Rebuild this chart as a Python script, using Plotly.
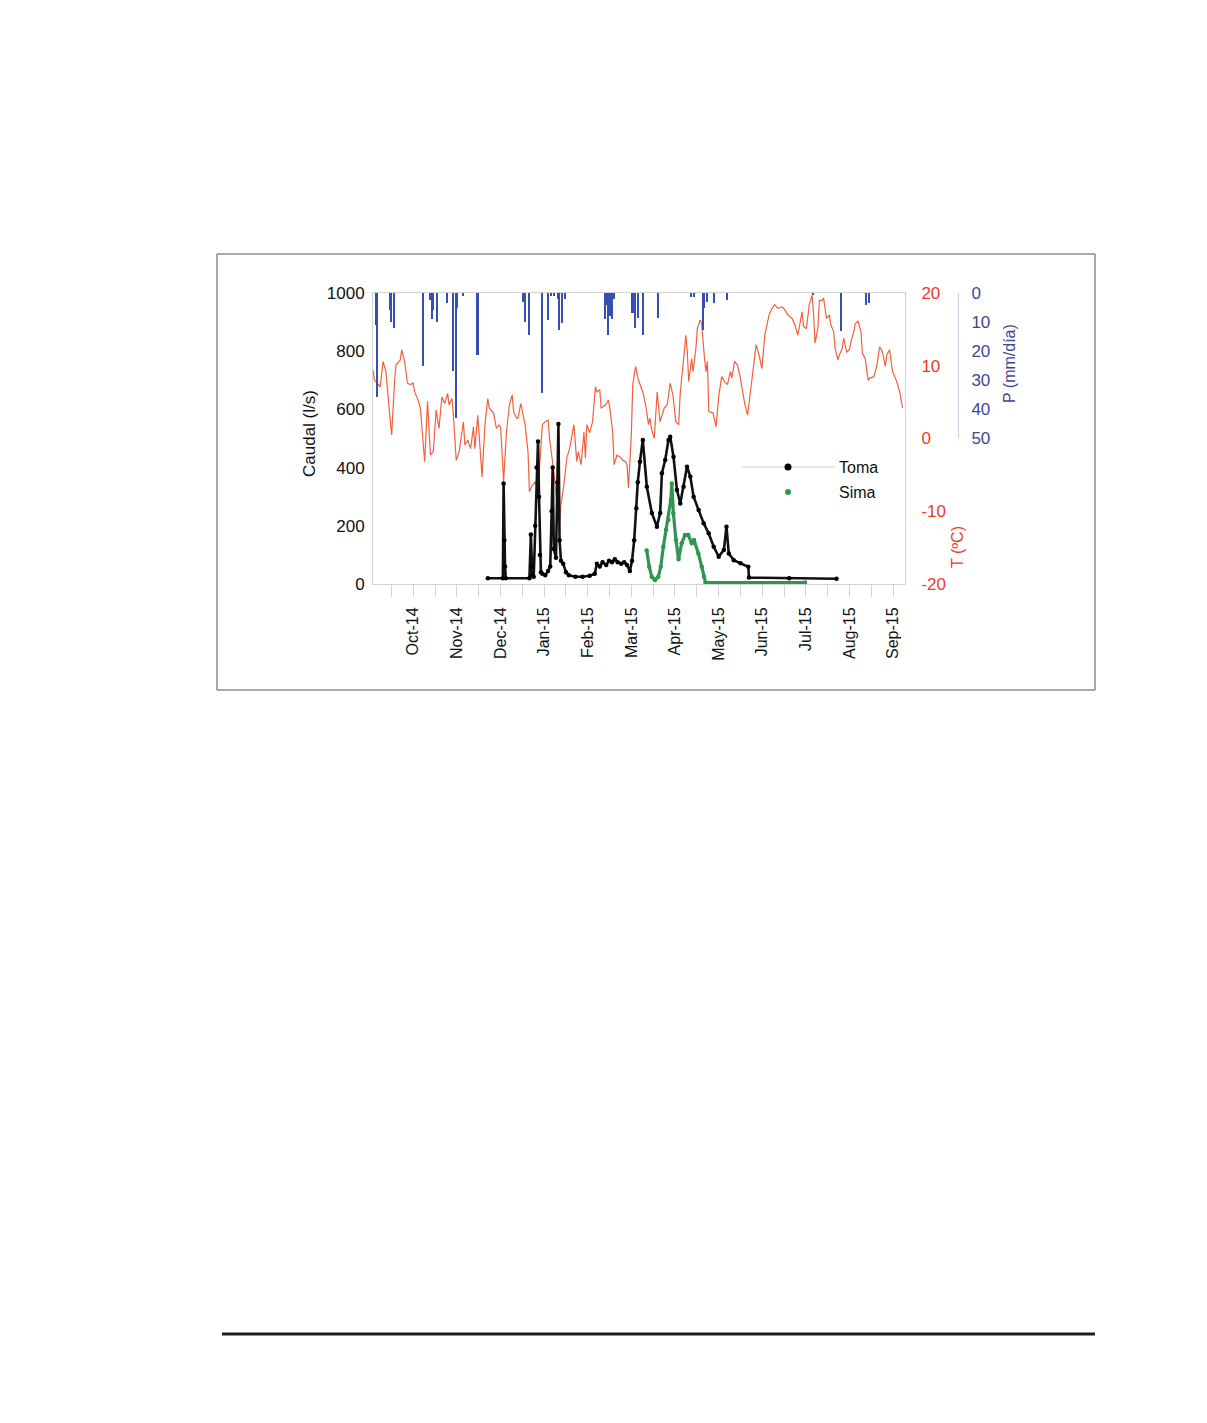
import pandas as pd
import plotly.graph_objects as go

PAGE_W, PAGE_H = 1207, 1423
OFF = 8  # default body margin of the page
W, H = PAGE_W - OFF, PAGE_H - OFF
start = pd.Timestamp("2014-09-03")

# Daily air temperature (ºC), day offsets from start
temp_day = [0, 1, 4, 5, 7, 9, 12, 13, 15, 16,
            19, 20, 22, 24, 26, 28, 29, 31, 33, 34,
            36, 38, 40, 42, 44, 46, 48, 50, 52, 53,
            55, 56, 58, 60, 63, 64, 66, 68, 70, 71,
            73, 76, 78, 80, 81, 84, 86, 88, 89, 91,
            93, 95, 97, 98, 100, 101, 103, 105, 106, 108,
            109, 111, 113, 115, 116, 118, 120, 122, 123, 126,
            128, 130, 131, 133, 135, 137, 140, 142, 143, 145,
            147, 148, 149, 151, 153, 155, 156, 158, 159, 162,
            164, 165, 167, 168, 170, 172, 174, 176, 177, 178,
            180, 181, 183, 185, 188, 190, 192, 193, 194, 196,
            198, 200, 203, 205, 207, 209, 211, 213, 214, 216,
            218, 219, 220, 222, 223, 225, 226, 228, 229, 231,
            232, 233, 234, 237, 239, 241, 243, 245, 247, 249,
            250, 252, 254, 256, 258, 259, 261, 263, 265, 267,
            269, 271, 273, 275, 276, 278, 280, 282, 285, 287,
            289, 292, 294, 296, 297, 299, 300, 302, 304, 306,
            307, 308, 310, 311, 313, 314, 316, 318, 319, 321,
            322, 324, 325, 327, 328, 330, 332, 333, 335, 336,
            338, 340, 341, 343, 345, 346, 349, 351, 353, 355,
            357, 358, 360, 362, 364, 365, 367, 369]
temp_c = [9.4, 8.0, 7.4, 7.1, 10.6, 9.2, 2.5, 0.5, 7.8, 10.1,
          10.8, 12.2, 10.6, 7.6, 7.4, 7.6, 6.4, 5.5, 4.2, 1.4,
          -3.2, 5.1, -2.3, -1.8, 3.9, 1.4, 5.7, 4.8, 6.2, 4.6,
          5.5, 3.2, -3.0, -1.8, 2.3, -0.9, -0.2, -1.4, 1.6, -1.4,
          3.2, -5.3, 1.9, 5.5, 4.2, 3.5, 1.4, 1.9, 1.4, -5.9,
          0.9, 4.6, 6.0, 3.7, 2.8, 2.8, 4.8, 2.8, 1.9, -1.8,
          -7.3, -6.4, -6.0, -7.0, -4.1, 1.9, 2.3, 2.5, 0.0, -4.6,
          -8.7, -11.5, -9.0, -6.4, -2.7, -1.4, 1.9, -3.2, -1.8, -3.6,
          0.9, -2.7, 1.9, 0.8, 2.3, 7.1, 6.4, 6.7, 4.2, 4.6,
          5.3, 4.2, 0.9, -3.6, -2.3, -2.5, -3.0, -3.2, -3.6, -6.8,
          0.5, 7.4, 9.9, 8.0, 6.4, 4.6, 1.9, 2.8, 1.4, 0.0,
          6.4, 2.3, 4.2, 4.6, 7.6, 6.0, 2.3, 1.9, 6.0, 10.1,
          14.2, 11.9, 7.8, 11.0, 9.2, 12.4, 15.1, 16.3, 15.8, 11.0,
          9.2, 10.6, 3.7, 3.5, 1.6, 6.0, 8.5, 7.8, 7.4, 9.2,
          8.3, 10.6, 10.1, 8.3, 5.5, 4.8, 3.2, 6.4, 10.1, 12.9,
          11.5, 9.6, 14.2, 16.1, 17.0, 17.9, 18.4, 17.9, 18.1, 17.7,
          17.0, 16.5, 15.6, 14.2, 15.4, 17.4, 15.4, 15.1, 18.4, 19.7,
          17.0, 13.1, 15.1, 19.0, 19.0, 19.3, 16.5, 17.0, 15.6, 14.7,
          12.4, 10.8, 11.5, 12.4, 13.8, 11.9, 12.2, 13.3, 14.7, 15.8,
          16.1, 14.7, 11.7, 11.0, 8.0, 8.3, 8.5, 9.9, 12.6, 11.9,
          9.9, 11.5, 12.2, 9.2, 8.3, 7.8, 6.4, 4.2]

# Discharge at "Toma" (l/s)
toma_day = [80, 90.5, 91, 91.5, 92, 92.5, 109, 110, 110.5, 111,
            112, 113, 114, 115, 115.7, 116.3, 117, 118, 120, 122,
            123.5, 124.5, 125.2, 126, 127.5, 128.5, 129.2, 130, 131, 132.5,
            134.5, 136.5, 141, 146, 151, 154.5, 156, 158, 160, 162.5,
            164.5, 166.5, 168.5, 170.5, 173, 175, 177, 179, 180.5, 182,
            183.5, 184.5, 186, 188, 190.8, 194.3, 197.8, 200.1, 201.3, 203.6,
            205.9, 207.1, 209.4, 211.8, 214.1, 216.4, 218.8, 221.1, 223.4, 226.9,
            230.4, 233.9, 237.4, 240.9, 244.5, 246.3, 247.9, 251.4, 256.1, 261.5,
            262, 290, 323]
toma_q = [20, 20, 345, 150, 60, 20, 20, 170, 60, 30,
          25, 200, 400, 490, 300, 100, 40, 35, 30, 45,
          60, 250, 400, 120, 90, 350, 550, 150, 80, 70,
          40, 30, 25, 25, 28, 35, 70, 60, 75, 65,
          80, 75, 85, 75, 70, 75, 65, 45, 80, 150,
          260, 350, 420, 495, 334, 244, 197, 244, 381, 426,
          495, 506, 437, 323, 277, 334, 403, 369, 300, 254,
          209, 174, 128, 94, 117, 197, 105, 82, 71, 59,
          22, 20, 18]

# Discharge at "Sima" (l/s)
sima_day = [190.7, 192.5, 194.2, 196.5, 198.8, 200.5, 202.3, 204.2, 205.8, 207.5,
            208.2, 209.3, 211.1, 212.9, 215.1, 217.4, 219.7, 222.1, 223.7, 226.7,
            229.1, 230.7, 231.7, 301]
sima_q = [115, 59, 25, 14, 25, 59, 128, 186, 220, 289,
          345, 243, 151, 85, 140, 168, 168, 140, 151, 105,
          59, 25, 5, 5]

# Daily precipitation (mm/día)
precip_day = [2, 3, 12, 13, 15, 35, 40, 41, 42, 45, 52, 56, 58, 59, 63, 73,
              105, 106, 109, 118, 122, 124, 126, 129, 130, 132, 134,
              162, 163, 164, 165, 167, 168, 181, 183, 185, 188, 199,
              222, 224, 230, 231, 233, 238, 247, 307, 326, 344, 346]
precip_mm = [11, 36, 6, 10, 12, 25, 2.4, 9, 6, 10, 3.6, 27, 43, 5, 1, 21.4,
             3, 10, 14.5, 34.6, 9.3, 1, 1, 2, 12.8, 10.5, 2,
             9, 4, 14.5, 8, 9, 2, 7, 12.2, 8.7, 14.5, 8.5,
             1.3, 1.3, 12.8, 5, 3, 3.6, 2.4, 0.7, 13, 4, 3.5]

month_labels = ["Oct-14", "Nov-14", "Dec-14", "Jan-15", "Feb-15", "Mar-15",
                "Apr-15", "May-15", "Jun-15", "Jul-15", "Aug-15", "Sep-15"]
caudal_ticks = [0, 200, 400, 600, 800, 1000]
temp_ticks = [-20, -10, 0, 10, 20]
temp_tick_text = ["-20", "-10", "0", "10", "20"]
precip_ticks = [0, 10, 20, 30, 40, 50]

assert len(temp_day) == len(temp_c)
assert len(toma_day) == len(toma_q)
assert len(sima_day) == len(sima_q)
assert len(precip_day) == len(precip_mm)


def to_dates(days):
    return [(start + pd.Timedelta(days=d)).strftime("%Y-%m-%d %H:%M") for d in days]


first_tick = pd.Timestamp("2014-10-01")
step = 30.4
major_vals = [(first_tick + pd.Timedelta(days=step * k)).strftime("%Y-%m-%d %H:%M")
              for k in range(len(month_labels))]
minor_vals = [(first_tick + pd.Timedelta(days=step * (k - 0.5))).strftime("%Y-%m-%d %H:%M")
              for k in range(len(month_labels) + 1)]
x_end = (start + pd.Timedelta(days=370.7)).strftime("%Y-%m-%d %H:%M")

FONT = "Liberation Sans, Arial, sans-serif"
RED = "#ec3b24"
TLINE = "#f2603c"
BLUE_TXT = "#3e4595"
BLUE_BAR = "#3550b0"
GREEN = "#2f9550"
AX = "#d3d3d3"


def px(v):
    return (v - OFF) / W


def py(v):
    return 1 - (v - OFF) / H


fig = go.Figure()

fig.add_trace(go.Scatter(x=to_dates(temp_day), y=temp_c, mode="lines",
                         line=dict(color=TLINE, width=1.2), yaxis="y",
                         showlegend=False, name="T"))
fig.add_trace(go.Bar(x=to_dates(precip_day), y=precip_mm, yaxis="y3",
                     marker=dict(color=BLUE_BAR, line=dict(width=0)),
                     width=86400000 * 1.1, showlegend=False, name="P"))
fig.add_trace(go.Scatter(x=to_dates(toma_day), y=toma_q, mode="lines+markers",
                         line=dict(color="#111111", width=2.6),
                         marker=dict(color="#000000", size=4.5),
                         yaxis="y2", showlegend=False, name="Toma"))
fig.add_trace(go.Scatter(x=to_dates(sima_day), y=sima_q, mode="lines+markers",
                         line=dict(color=GREEN, width=3.2),
                         marker=dict(color=GREEN, size=4.5),
                         yaxis="y2", showlegend=False, name="Sima"))
# legend entries
fig.add_trace(go.Scatter(x=[None], y=[None], mode="lines+markers", name="Toma",
                         line=dict(color="#cfcfcf", width=1),
                         marker=dict(color="#000000", size=7),
                         yaxis="y2", legend="legend"))
fig.add_trace(go.Scatter(x=[None], y=[None], mode="markers", name="Sima",
                         marker=dict(color=GREEN, size=6),
                         yaxis="y2", legend="legend2"))

fig.update_layout(
    width=W, height=H,
    margin=dict(l=0, r=0, t=0, b=0),
    paper_bgcolor="white", plot_bgcolor="rgba(0,0,0,0)",
    font=dict(family=FONT, size=16, color="#111111"),
    xaxis=dict(
        type="date", domain=[px(373), px(905)], range=[start.strftime("%Y-%m-%d"), x_end],
        tickmode="array", tickvals=major_vals, ticktext=month_labels,
        tickangle=-90, ticks="outside", ticklen=12, tickcolor=AX, tickwidth=1,
        showline=True, linecolor=AX, mirror=True, showgrid=False, zeroline=False,
        tickfont=dict(size=16, color="#111111"), automargin=False, anchor="y",
        ticklabelstandoff=4,
        minor=dict(tickmode="array", tickvals=minor_vals, ticks="outside",
                   ticklen=12, tickcolor=AX, showgrid=False),
    ),
    yaxis=dict(
        domain=[py(584), py(293)], range=[-20, 20], tickmode="array",
        tickvals=temp_ticks, ticktext=temp_tick_text,
        side="right", anchor="x", showline=True, linecolor=AX, showgrid=False,
        zeroline=False, ticks="outside", ticklen=12, tickcolor="rgba(0,0,0,0)",
        tickfont=dict(size=17, color=RED), automargin=False,
    ),
    yaxis2=dict(
        overlaying="y", side="left", anchor="x", range=[0, 1000], tickmode="array",
        tickvals=caudal_ticks, showline=True, linecolor=AX, showgrid=False,
        zeroline=False, ticks="outside", ticklen=4, tickcolor="rgba(0,0,0,0)",
        tickfont=dict(size=17, color="#111111"), automargin=False,
    ),
    yaxis3=dict(
        domain=[py(438), py(293)], anchor="free", position=px(958), side="right",
        range=[50, 0], tickmode="array", tickvals=precip_ticks, showline=True,
        linecolor="#c9cce0", showgrid=False, zeroline=False, ticks="outside",
        ticklen=9, tickcolor="rgba(0,0,0,0)",
        tickfont=dict(size=17, color=BLUE_TXT), automargin=False,
    ),
    legend=dict(x=px(737), y=py(450), xanchor="left", yanchor="top",
                bgcolor="rgba(0,0,0,0)", font=dict(size=16, color="#111111"),
                itemwidth=92),
    legend2=dict(x=px(737), y=py(475), xanchor="left", yanchor="top",
                 bgcolor="rgba(0,0,0,0)", font=dict(size=16, color="#111111"),
                 itemwidth=92),
    bargap=0,
    annotations=[
        dict(text="Caudal (l/s)", x=px(309), y=py(434), xref="paper", yref="paper",
             xanchor="center", yanchor="middle",
             showarrow=False, textangle=-90, font=dict(size=17, color="#111111")),
        dict(text="T (ºC)", x=px(957), y=py(547), xref="paper", yref="paper",
             xanchor="center", yanchor="middle",
             showarrow=False, textangle=-90, font=dict(size=16, color=RED)),
        dict(text="P (mm/día)", x=px(1010), y=py(364), xref="paper", yref="paper",
             xanchor="center", yanchor="middle",
             showarrow=False, textangle=-90, font=dict(size=16, color=BLUE_TXT)),
    ],
    shapes=[
        dict(type="rect", xref="paper", yref="paper", x0=px(217), x1=px(1095),
             y0=py(690), y1=py(254), line=dict(color="#555555", width=1)),
        dict(type="line", xref="paper", yref="paper", x0=px(222), x1=px(1095),
             y0=py(1334), y1=py(1334), line=dict(color="#1c1c1c", width=3)),
    ],
)

fig.write_html("out.html")
